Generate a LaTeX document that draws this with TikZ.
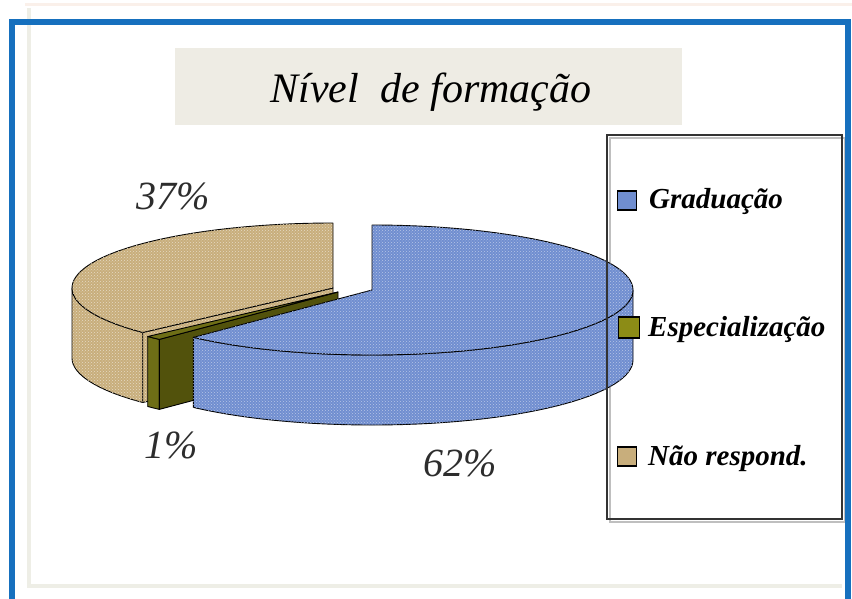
\documentclass[tikz,border=0pt]{standalone}
\usepackage{fontspec}
\setmainfont{Liberation Serif}
\usetikzlibrary{calc,patterns}
\definecolor{frameblue}{RGB}{22,112,190}
\definecolor{palegray}{RGB}{238,238,230}
\definecolor{palepeach}{RGB}{250,240,234}
\definecolor{titlebg}{RGB}{238,236,228}
\definecolor{pieblue}{RGB}{112,142,208}
\definecolor{pietan}{RGB}{200,174,124}
\definecolor{oliveface}{RGB}{82,82,12}
\definecolor{oliveside}{RGB}{110,110,22}
\definecolor{olivekey}{RGB}{140,140,22}
\definecolor{pcttext}{RGB}{45,45,45}
\begin{document}
\begin{tikzpicture}[x=1pt,y=-1pt,
  edge/.style={draw=black,line width=0.9pt,line join=round},
  ell/.style={x radius=261,y radius=65},
  bluetex/.style={fill=pieblue,postaction={pattern=crosshatch dots,pattern color=pieblue!50!white}},
  tantex/.style={fill=pietan,postaction={pattern=crosshatch dots,pattern color=pietan!45!white}},
  pct/.style={font=\fontsize{40}{40}\selectfont\itshape,text=pcttext,inner sep=0pt},
  keytext/.style={font=\fontsize{29}{29}\selectfont\bfseries\itshape,anchor=west,inner sep=0pt},
  keybox/.style={draw=black,line width=1.5pt}
]
\useasboundingbox (0,0) rectangle (852,598);
\clip (0,0) rectangle (852,598);
\fill[white] (0,0) rectangle (852,598);
% pale outer traces
\draw[palepeach,line width=3pt] (25,4.5) -- (852,4.5);
\draw[palegray,line width=4pt] (29,8) -- (29,586) -- (842,586);
% legend shadow
\draw[black!25,line width=2pt] (610,138) rectangle (845,522);
% blue frame
\draw[frameblue,line width=6pt] (11.5,640) -- (11.5,21.5) -- (848,21.5) -- (848,640);
% title
\node[fill=titlebg,minimum width=507pt,minimum height=77pt,inner sep=0pt] (titlebox) at (428.5,86.5) {};
\node[anchor=base,inner sep=0pt] (title) at (431,102) {\fontsize{42}{42}\selectfont\itshape N\'ivel\ \ de forma\c{c}\~ao};
% ---------- brown slice (37%) ----------
\path[tantex,edge] (333,288) ++(136.8:261 and 65) arc[start angle=136.8,end angle=180,ell] -- ++(0,70) arc[start angle=180,end angle=136.8,ell] -- cycle;
\path[tantex,edge] (333,288) -- ++(136.8:261 and 65) -- ++(0,70) -- (333,358) -- cycle;
\path[tantex,edge] (333,288) -- ++(136.8:261 and 65) arc[start angle=136.8,end angle=270,ell] -- cycle;
% ---------- olive slice (1%) ----------
\path[fill=oliveside,edge] (338,292) ++(133.2:261 and 65) arc[start angle=133.2,end angle=136.8,ell] -- ++(0,70) arc[start angle=136.8,end angle=133.2,ell] -- cycle;
\path[fill=oliveface,edge] (338,292) -- ++(133.2:261 and 65) -- ++(0,70) -- (338,362) -- cycle;
\path[fill=oliveside,edge] (338,292) -- ++(133.2:261 and 65) arc[start angle=133.2,end angle=136.8,ell] -- cycle;
% ---------- blue slice (62%) ----------
\path[bluetex,edge] (372,290) ++(0:261 and 65) arc[start angle=0,end angle=133.2,ell] -- ++(0,70) arc[start angle=133.2,end angle=0,ell] -- cycle;
\path[bluetex,edge] (372,290) -- ++(-90:261 and 65) arc[start angle=-90,end angle=133.2,ell] -- cycle;
% percentages
\node[pct] (p37) at (173,196) {37\%};
\node[pct] (p1) at (171,445) {1\%};
\node[pct] (p62) at (460,463) {62\%};
% legend
\node[draw=black!80,line width=2pt,minimum width=235pt,minimum height=384pt,inner sep=0pt] (legend) at (724.5,327) {};
\node[keybox,fill=pieblue,minimum size=19pt,inner sep=0pt] (k1) at (627,200.5) {};
\node[keybox,fill=olivekey,minimum size=21pt,inner sep=0pt] (k2) at (629,327.5) {};
\node[keybox,fill=pietan,minimum size=19pt,inner sep=0pt] (k3) at (627,456.5) {};
\node[keytext] (t1) at (649,201) {Gradua\c{c}\~ao};
\node[keytext] (t2) at (648,330) {Especializa\c{c}\~ao};
\node[keytext] (t3) at (648,459) {N\~ao respond.};
\end{tikzpicture}
\end{document}
